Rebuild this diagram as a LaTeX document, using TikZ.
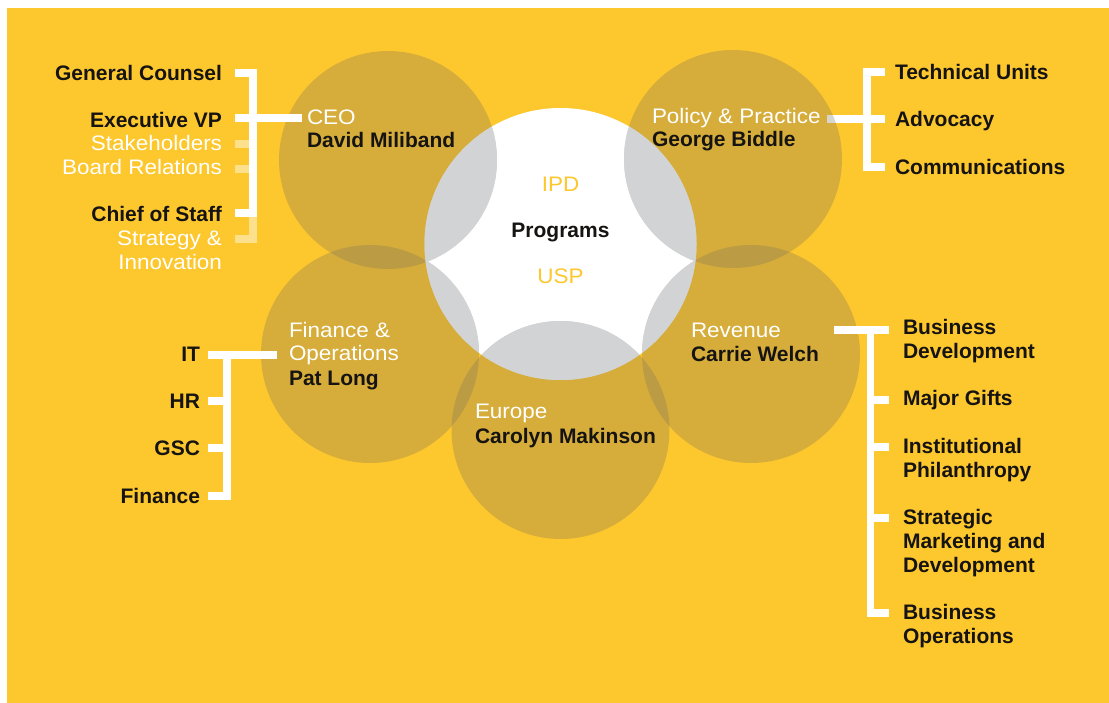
\documentclass[tikz,border=0pt]{standalone}
\usepackage{fontspec}
\setmainfont{Liberation Sans}[UprightFeatures={FakeStretch=1.07}]
\usetikzlibrary{calc}

\definecolor{ircyellow}{RGB}{253,199,46}
\definecolor{ringshade}{RGB}{126,116,90}
\definecolor{mistgray}{RGB}{209,211,212}
\definecolor{inkblack}{RGB}{22,20,18}

\pgfdeclarelayer{paper}
\pgfdeclarelayer{under}
\pgfdeclarelayer{rings}
\pgfsetlayers{paper,under,rings,main}

\tikzset{
  ring/.style={fill=ringshade, fill opacity=0.3},
  wire/.style={draw=white, line width=7.5pt, line cap=butt, line join=miter},
  fadewire/.style={wire, draw opacity=0.45},
  txt/.style={inner sep=0pt, outer sep=0pt, font=\fontsize{21}{24}\selectfont},
  head/.style={txt, text=white},
  side/.style={txt, text=white},
  who/.style={txt, text=inkblack, font=\fontsize{21}{24}\selectfont\bfseries},
  unit/.style={who},
}

\begin{document}
\begin{tikzpicture}[x=1pt, y=-1pt]
  \useasboundingbox (0,0) rectangle (1109,703);

  % circle centres
  \coordinate (cprog) at (560.5,244);
  \coordinate (cceo) at (388,160);
  \coordinate (cpol) at (733,159);
  \coordinate (cfin) at (370,354);
  \coordinate (crev) at (751,354);
  \coordinate (ceur) at (560.5,430);

  \begin{pgfonlayer}{paper}
    \fill[white] (0,0) rectangle (1109,703);
    \fill[ircyellow] (7,8) rectangle (1109,703);
  \end{pgfonlayer}

  \begin{pgfonlayer}{rings}
    \fill[white] (cprog) circle[radius=136pt];
    \foreach \c in {cceo,cpol,cfin,crev,ceur}
      \fill[ring] (\c) circle[radius=109pt];
    \begin{scope}
      \clip (cprog) circle[radius=136pt];
      \foreach \c in {cceo,cpol,cfin,crev,ceur}
        \fill[mistgray] (\c) circle[radius=109pt];
    \end{scope}
  \end{pgfonlayer}

  % heads and names inside the circles
  \node[head, anchor=base west] (ceorole) at (307,125) {CEO};
  \node[who, anchor=base west] (ceoname) at (307,148) {David Miliband};
  \node[head, anchor=base west] (polrole) at (652,124) {Policy \& Practice};
  \node[who, anchor=base west] (polname) at (652,147) {George Biddle};
  \node[head, anchor=base west, align=left] (finrole) at (289,361) {Finance \&\\Operations};
  \node[who, anchor=base west] (finname) at (289,385) {Pat Long};
  \node[head, anchor=base west] (revrole) at (691,338) {Revenue};
  \node[who, anchor=base west] (revname) at (691,362) {Carrie Welch};
  \node[head, anchor=base west] (eurrole) at (475,418) {Europe};
  \node[who, anchor=base west] (eurname) at (475,443) {Carolyn Makinson};

  \node[txt, text=ircyellow, anchor=base] (ipd) at (560.5,192) {IPD};
  \node[who, anchor=base] (prog) at (560.5,238) {Programs};
  \node[txt, text=ircyellow, anchor=base] (usp) at (560.5,284) {USP};

  % CEO office
  \node[unit, anchor=base east] (gc) at (222,81) {General Counsel};
  \node[unit, anchor=base east] (evp) at (222,128) {Executive VP};
  \node[side, anchor=base east] (stake) at (222,151) {Stakeholders};
  \node[side, anchor=base east] (board) at (222,175) {Board Relations};
  \node[unit, anchor=base east] (cos) at (222,222) {Chief of Staff};
  \node[side, anchor=base east, align=right] (strat) at (222,270) {Strategy \&\\Innovation};

  \path ([xshift=13pt,yshift=8pt]gc.base east) coordinate (gcend)
        ([xshift=13pt,yshift=10pt]evp.base east) coordinate (evpend)
        ([xshift=13pt,yshift=7pt]stake.base east) coordinate (stakeend)
        ([xshift=13pt,yshift=6pt]board.base east) coordinate (boardend)
        ([xshift=13pt,yshift=9pt]cos.base east) coordinate (cosend)
        ([xshift=13pt,yshift=31pt]strat.base east) coordinate (stratend);
  \coordinate (ceobar) at (253,0);

  \draw[fadewire] (stakeend) -- (ceobar |- stakeend);
  \draw[fadewire] (boardend) -- (ceobar |- boardend);
  \draw[fadewire] (ceobar |- cosend) |- (stratend);
  \draw[wire] (gcend) -| (ceobar |- cosend) -- (cosend);
  \draw[wire] (evpend) -- ([xshift=-5pt]ceorole.base west |- evpend);

  % policy and practice
  \node[unit, anchor=base west] (tech) at (895,80) {Technical Units};
  \node[unit, anchor=base west] (adv) at (895,127) {Advocacy};
  \node[unit, anchor=base west] (comm) at (895,175) {Communications};

  \path ([xshift=-10pt,yshift=8pt]tech.base west) coordinate (techend)
        ([xshift=-10pt,yshift=8pt]adv.base west) coordinate (advend)
        ([xshift=-10pt,yshift=8pt]comm.base west) coordinate (commend);
  \coordinate (polbar) at (867,0);

  \begin{pgfonlayer}{under}
    \draw[wire] ([xshift=6pt]polrole.base east |- advend) -- (advend);
  \end{pgfonlayer}
  \draw[wire] (techend) -| (polbar |- commend) -- (commend);

  % finance and operations
  \node[unit, anchor=base east] (it) at (200,362) {IT};
  \node[unit, anchor=base east] (hr) at (200,408) {HR};
  \node[unit, anchor=base east] (gsc) at (200,455) {GSC};
  \node[unit, anchor=base east] (fin) at (200,503) {Finance};

  \path ([xshift=8pt,yshift=7pt]it.base east) coordinate (itend)
        ([xshift=8pt,yshift=7pt]hr.base east) coordinate (hrend)
        ([xshift=8pt,yshift=7pt]gsc.base east) coordinate (gscend)
        ([xshift=8pt,yshift=7pt]fin.base east) coordinate (finend);
  \coordinate (finbar) at (227,0);

  \draw[wire] (itend) -- ([xshift=-12pt]finrole.base west |- itend);
  \draw[wire] (finbar |- itend) |- (finend);
  \draw[wire] (hrend) -- (finbar |- hrend);
  \draw[wire] (gscend) -- (finbar |- gscend);

  % revenue
  \node[unit, anchor=base west, align=left] (bizdev) at (903,359) {Business\\Development};
  \node[unit, anchor=base west] (gifts) at (903,406) {Major Gifts};
  \node[unit, anchor=base west, align=left] (inst) at (903,477) {Institutional\\Philanthropy};
  \node[unit, anchor=base west, align=left] (smd) at (903,572) {Strategic\\Marketing and\\Development};
  \node[unit, anchor=base west, align=left] (bizops) at (903,643) {Business\\Operations};

  \path ([xshift=-14pt,yshift=29pt]bizdev.base west) coordinate (bizdevend)
        ([xshift=-14pt,yshift=6pt]gifts.base west) coordinate (giftsend)
        ([xshift=-14pt,yshift=30pt]inst.base west) coordinate (instend)
        ([xshift=-14pt,yshift=54pt]smd.base west) coordinate (smdend)
        ([xshift=-14pt,yshift=30pt]bizops.base west) coordinate (bizopsend);
  \coordinate (revbar) at (870.5,0);

  \draw[wire] ([xshift=15pt]revname.base east |- bizdevend) -- (bizdevend);
  \draw[wire] (revbar |- bizdevend) |- (bizopsend);
  \draw[wire] (giftsend) -- (revbar |- giftsend);
  \draw[wire] (instend) -- (revbar |- instend);
  \draw[wire] (smdend) -- (revbar |- smdend);
\end{tikzpicture}
\end{document}
